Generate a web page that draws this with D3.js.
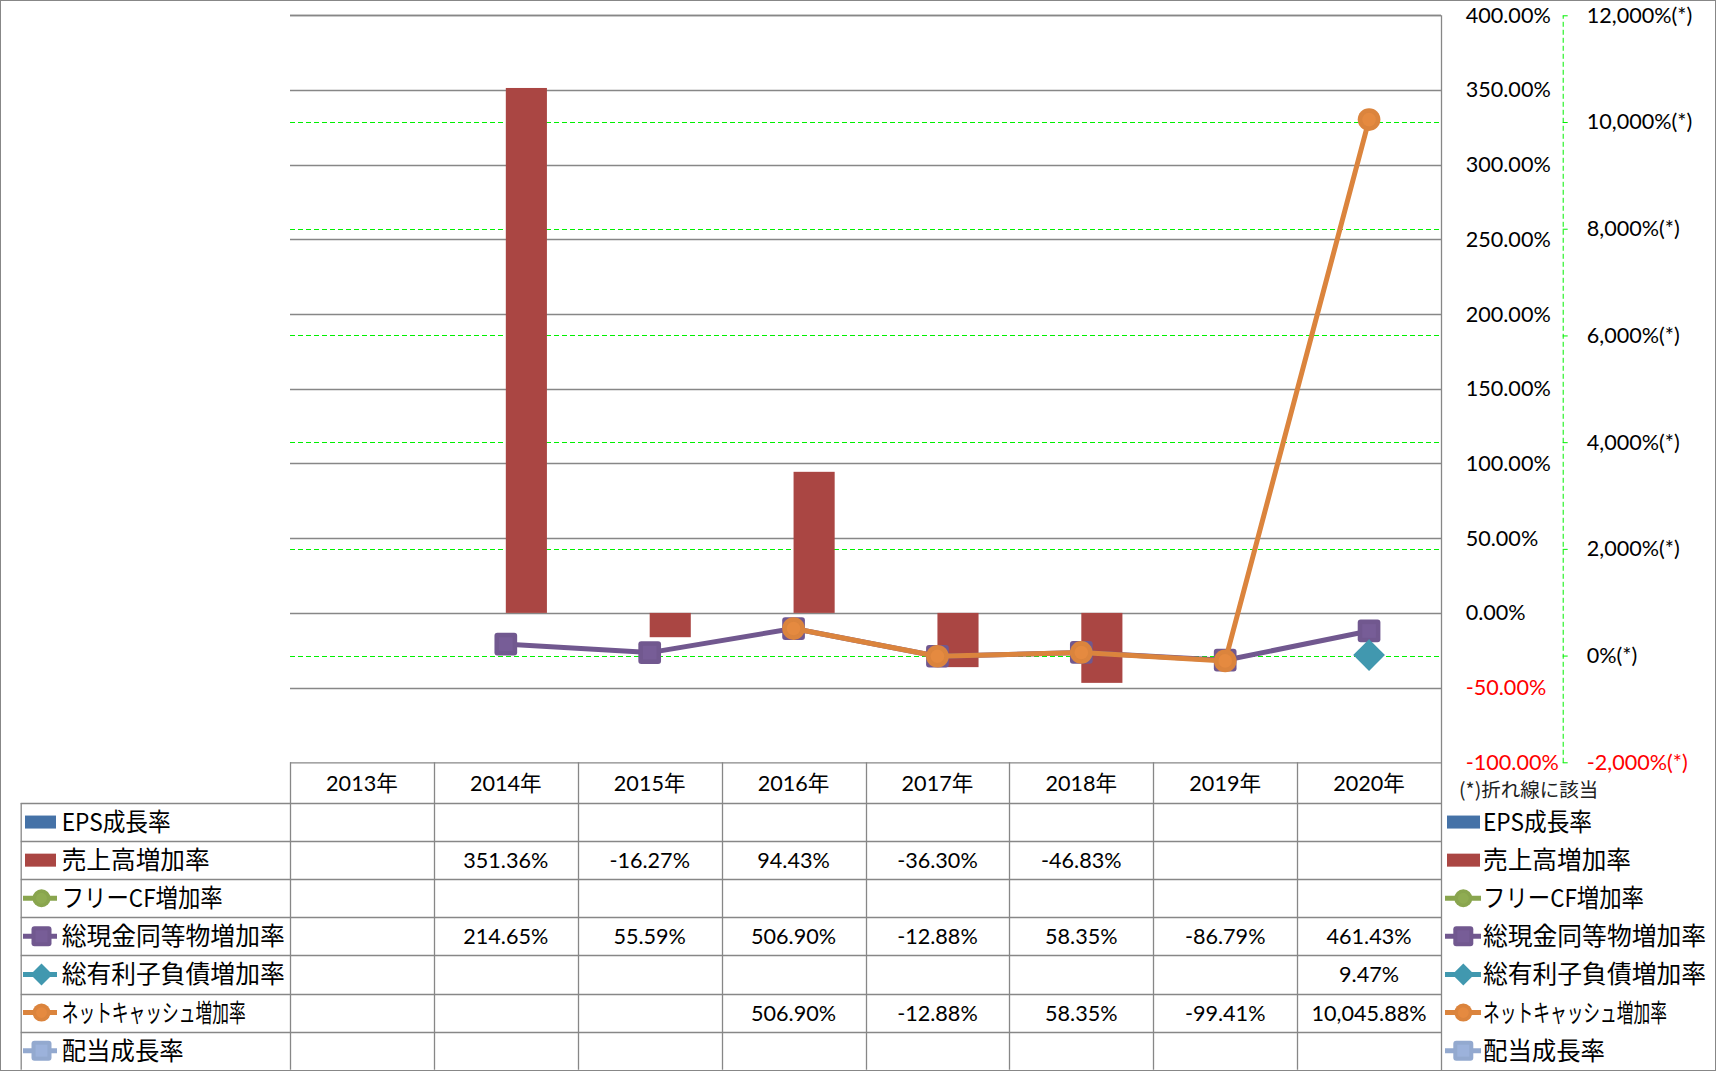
<!DOCTYPE html>
<html lang="ja">
<head>
<meta charset="UTF-8">
<title>成長率チャート</title>
<script src="https://d3js.org/d3.v7.min.js"></script>
<style>
    html, body { margin: 0; padding: 0; background: #fff; }
    svg { display: block; }
    .num { font-family: Lato, 'Noto Sans CJK JP', sans-serif; font-size: 21.6px; fill: #000; }
    .jp { font-family: 'Noto Sans CJK JP', sans-serif; font-size: 24.5px; fill: #000; }
</style>
</head>
<body>
<div id="chart"></div>
<script>
// DATA
const years = ["2013年", "2014年", "2015年", "2016年", "2017年", "2018年", "2019年", "2020年"];
const epsGrowth = [null, null, null, null, null, null, null, null];
const salesGrowth = [null, 351.36, -16.27, 94.43, -36.30, -46.83, null, null];
const freeCfGrowth = [null, null, null, null, null, null, null, null];
const cashGrowth = [null, 214.65, 55.59, 506.90, -12.88, 58.35, -86.79, 461.43];
const debtGrowth = [null, null, null, null, null, null, null, 9.47];
const netCashGrowth = [null, null, null, 506.90, -12.88, 58.35, -99.41, 10045.88];
const dividendGrowth = [null, null, null, null, null, null, null, null];
const leftTicks = [-100, -50, 0, 50, 100, 150, 200, 250, 300, 350, 400];
const rightTicks = [-2000, 0, 2000, 4000, 6000, 8000, 10000, 12000];

const series = [
    {name: "EPS成長率", values: epsGrowth, type: "bar", color: "#4572A7"},
    {name: "売上高増加率", values: salesGrowth, type: "bar", color: "#AA4643"},
    {name: "フリーCF増加率", values: freeCfGrowth, type: "line", color: "#89A54E", marker: "circle"},
    {name: "総現金同等物増加率", values: cashGrowth, type: "line", color: "#71588F", marker: "square"},
    {name: "総有利子負債増加率", values: debtGrowth, type: "line", color: "#4198AF", marker: "diamond"},
    {name: "ネットキャッシュ増加率", values: netCashGrowth, type: "line", color: "#DB843D", marker: "circle"},
    {name: "配当成長率", values: dividendGrowth, type: "line", color: "#93A9CF", marker: "square"}
];
const labelWidths = [109, 148, 161, 223, 223, 184, 122];

const W = 1716, H = 1071;
const plot = {left: 290, right: 1441, top: 15.3, bottom: 762.3};
const rowTop = 803, rowH = 38.1, headTop = 762.3, legendLeft = 20.7;
const gridColor = "#878787";
const green = "#00F000";

const loc = d3.formatLocale({decimal: ".", thousands: ",", grouping: [3], currency: ["", ""], minus: "-"});
const fmtPct = v => loc.format(",.2f")(v) + "%";
const fmtRight = v => loc.format(",")(v) + "%(*)";

const svg = d3.select("#chart").append("svg").attr("width", W).attr("height", H);

const x = d3.scaleBand().domain(years).range([plot.left, plot.right]).padding(0);
const y = d3.scaleLinear().domain([-100, 400]).range([plot.bottom, plot.top]);
const y2 = d3.scaleLinear().domain([-2000, 12000]).range([plot.bottom, plot.top]);
const bw = x.bandwidth();
const cx = d => x(d) + bw / 2;

// outer frame
svg.append("rect").attr("x", 0.5).attr("y", 0.5).attr("width", W - 1).attr("height", H - 1)
    .attr("fill", "none").attr("stroke", gridColor);

// GRIDLINES
svg.append("g").selectAll("line").data(leftTicks.filter(t => t > -100)).join("line")
    .attr("x1", plot.left).attr("x2", plot.right)
    .attr("y1", d => Math.round(y(d)) + 0.5).attr("y2", d => Math.round(y(d)) + 0.5)
    .attr("stroke", gridColor).attr("stroke-width", 1.3);
svg.append("g").selectAll("line").data(rightTicks.filter(t => t > -2000 && t < 12000)).join("line")
    .attr("x1", plot.left).attr("x2", plot.right)
    .attr("y1", d => Math.round(y2(d)) + 0.5).attr("y2", d => Math.round(y2(d)) + 0.5)
    .attr("stroke", green).attr("stroke-width", 1).attr("stroke-dasharray", "5,3");

// BARS (clustered, gap 150%)
const barSeries = series.filter(s => s.type === "bar");
const barW = bw / (barSeries.length + 1.5);
barSeries.forEach((s, k) => {
    svg.append("g").selectAll("rect")
        .data(years.map((yr, i) => ({yr, v: s.values[i]})).filter(d => d.v != null))
        .join("rect")
        .attr("x", d => cx(d.yr) - barW * barSeries.length / 2 + k * barW)
        .attr("width", barW)
        .attr("y", d => y(Math.max(0, d.v)))
        .attr("height", d => Math.abs(y(d.v) - y(0)))
        .attr("fill", s.color);
});

// MARKERS
function drawMarker(g, kind, color, px, py, size) {
    const h = size / 2;
    const inner = d3.color(color).brighter(0.25);
    if (kind === "square") {
        g.append("rect").attr("x", px - h).attr("y", py - h).attr("width", size).attr("height", size)
            .attr("rx", 3).attr("fill", color);
        g.append("rect").attr("x", px - h * 0.6).attr("y", py - h * 0.6).attr("width", size * 0.6).attr("height", size * 0.6)
            .attr("fill", inner).attr("opacity", 0.6);
    } else if (kind === "circle") {
        g.append("circle").attr("cx", px).attr("cy", py).attr("r", h).attr("fill", color);
        g.append("circle").attr("cx", px).attr("cy", py).attr("r", h * 0.6).attr("fill", inner).attr("opacity", 0.5);
    } else {
        const d = h * 1.4;
        g.append("path").attr("d", `M${px},${py - d}L${px + d},${py}L${px},${py + d}L${px - d},${py}Z`).attr("fill", color);
    }
}

// LINES (secondary axis)
series.filter(s => s.type === "line").forEach(s => {
    const pts = years.map((yr, i) => ({yr, v: s.values[i]})).filter(d => d.v != null);
    if (!pts.length) return;
    const g = svg.append("g");
    g.append("path").datum(pts)
        .attr("d", d3.line().x(d => cx(d.yr)).y(d => y2(d.v)))
        .attr("fill", "none").attr("stroke", s.color).attr("stroke-width", 5).attr("stroke-linejoin", "round");
    pts.forEach(d => drawMarker(g, s.marker, s.color, cx(d.yr), y2(d.v), 22.7));
});

// top gridline + right axis line
svg.append("line").attr("x1", plot.left).attr("x2", plot.right).attr("y1", 15.5).attr("y2", 15.5)
    .attr("stroke", gridColor).attr("stroke-width", 1.3);
svg.append("line").attr("x1", plot.right + 0.5).attr("x2", plot.right + 0.5).attr("y1", plot.top).attr("y2", H - 1)
    .attr("stroke", gridColor).attr("stroke-width", 1.3);

// PRIMARY AXIS (labels only)
const axL = svg.append("g").attr("transform", `translate(1465.7,0)`)
    .call(d3.axisRight(y).tickValues(leftTicks).tickSize(0).tickPadding(0).tickFormat(fmtPct));
axL.select(".domain").remove();
axL.selectAll("text").attr("class", "num").style("fill", d => d < 0 ? "#FF0000" : "#000");

// SECONDARY AXIS
const axR = svg.append("g").attr("transform", `translate(1562.7,0)`)
    .call(d3.axisRight(y2).tickValues(rightTicks).tickSize(8).tickSizeOuter(0).tickPadding(16).tickFormat(fmtRight));
axR.select(".domain").attr("stroke", green).attr("stroke-dasharray", "5,3");
axR.selectAll(".tick line").attr("stroke", green).attr("stroke-dasharray", "5,3");
axR.selectAll("text").attr("class", "num").style("fill", d => d < 0 ? "#FF0000" : "#000");

svg.append("text").attr("x", 1459).attr("y", 797)
    .attr("font-family", "'Noto Sans CJK JP', sans-serif").attr("font-size", 19.5).attr("fill", "#222")
    .text("(*)折れ線に該当");

// DATA TABLE
const tg = svg.append("g");
const tableBottom = rowTop + rowH * series.length;
tg.append("line").attr("x1", plot.left).attr("x2", plot.right).attr("y1", headTop + 0.5).attr("y2", headTop + 0.5)
    .attr("stroke", gridColor).attr("stroke-width", 1.3);
tg.selectAll(".hrow").data(d3.range(series.length)).join("line")
    .attr("x1", legendLeft).attr("x2", plot.right)
    .attr("y1", i => Math.round(rowTop + i * rowH) + 0.5).attr("y2", i => Math.round(rowTop + i * rowH) + 0.5)
    .attr("stroke", gridColor).attr("stroke-width", 1.3);
tg.selectAll(".vcol").data(years).join("line")
    .attr("x1", d => Math.round(x(d)) + 0.5).attr("x2", d => Math.round(x(d)) + 0.5)
    .attr("y1", headTop).attr("y2", tableBottom)
    .attr("stroke", gridColor).attr("stroke-width", 1.3);
tg.append("line").attr("x1", legendLeft + 0.5).attr("x2", legendLeft + 0.5).attr("y1", rowTop).attr("y2", tableBottom)
    .attr("stroke", gridColor).attr("stroke-width", 1.3);

// header years
tg.selectAll(".yr").data(years).join("text").attr("class", "num")
    .attr("x", d => cx(d)).attr("y", (headTop + rowTop) / 2 + 8).attr("text-anchor", "middle")
    .text(d => d);

// legend swatch helper
function swatch(g, s, mx, my, x0, x1) {
    if (s.type === "bar") {
        g.append("rect").attr("x", x0 + 2).attr("y", my - 6.5).attr("width", x1 - x0 - 3).attr("height", 13).attr("fill", s.color);
    } else {
        g.append("line").attr("x1", x0).attr("x2", x1).attr("y1", my).attr("y2", my)
            .attr("stroke", s.color).attr("stroke-width", 5);
        const size = s.marker === "circle" ? 18 : s.marker === "diamond" ? 15.7 : 20;
        drawMarker(g, s.marker, s.color, mx, my, size);
    }
}

series.forEach((s, i) => {
    const rc = rowTop + i * rowH + rowH / 2;
    // left legend
    swatch(tg, s, 41.5, rc, 23, 57);
    tg.append("text").attr("class", "jp").attr("x", 61.7).attr("y", rc + 9)
        .attr("textLength", labelWidths[i]).attr("lengthAdjust", "spacingAndGlyphs").text(s.name);
    // right legend
    swatch(tg, s, 1463.3, rc, 1445, 1481);
    tg.append("text").attr("class", "jp").attr("x", 1483).attr("y", rc + 9)
        .attr("textLength", labelWidths[i]).attr("lengthAdjust", "spacingAndGlyphs").text(s.name);
    // values
    tg.selectAll(null).data(years.map((yr, j) => ({yr, v: s.values[j]})).filter(d => d.v != null))
        .join("text").attr("class", "num")
        .attr("x", d => cx(d.yr)).attr("y", rc + 8).attr("text-anchor", "middle")
        .text(d => fmtPct(d.v));
});
</script>
</body>
</html>
